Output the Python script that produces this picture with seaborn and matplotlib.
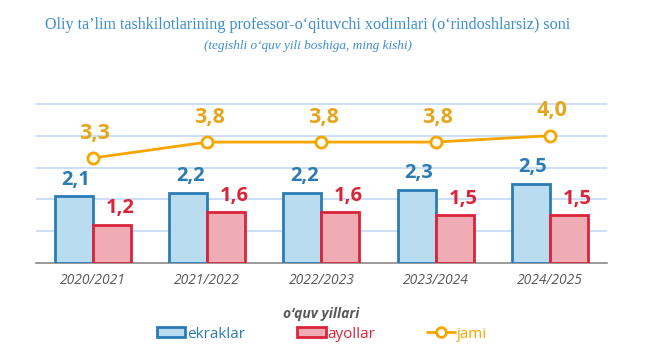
import matplotlib

matplotlib.use("Agg")
import matplotlib.pyplot as plt
import numpy as np
import pandas as pd
import seaborn as sns
from matplotlib.lines import Line2D
from matplotlib.patches import Patch

years = ["2020/2021", "2021/2022", "2022/2023", "2023/2024", "2024/2025"]
ekraklar = [2.1, 2.2, 2.2, 2.3, 2.5]
ayollar = [1.2, 1.6, 1.6, 1.5, 1.5]
jami = [3.3, 3.8, 3.8, 3.8, 4.0]
series_names = ["ekraklar", "ayollar", "jami"]

BLUE_FACE = "#b9dcf1"
BLUE_EDGE = "#2b7bb4"
RED_FACE = "#f0acb4"
RED_EDGE = "#da2439"
ORANGE = "#f7a600"
ORANGE_TXT = "#e6a61c"
TITLE_BLUE = "#3b8ed0"
GREY = "#595959"


def fmt(v):
    return f"{v:.1f}".replace(".", ",")


sns.set_theme(style="white")
plt.rcParams["font.family"] = ["Open Sans", "DejaVu Sans"]

df = pd.DataFrame(
    {
        "year": years * 2,
        "group": [series_names[0]] * len(years) + [series_names[1]] * len(years),
        "value": ekraklar + ayollar,
    }
)

fig = plt.figure(figsize=(6.54, 3.62), dpi=100)
ax = fig.add_axes([0.0546, 0.2727, 0.8736, 0.4582])

sns.barplot(
    data=df,
    x="year",
    y="value",
    hue="group",
    order=years,
    hue_order=series_names[:2],
    palette={series_names[0]: BLUE_FACE, series_names[1]: RED_FACE},
    width=0.665,
    saturation=1,
    legend=False,
    ax=ax,
    zorder=3,
)
for container, edge in zip(ax.containers, [BLUE_EDGE, RED_EDGE]):
    for bar in container:
        bar.set_edgecolor(edge)
        bar.set_linewidth(2)

# total line on the same axis
xs = np.arange(len(years))
sns.lineplot(
    x=xs,
    y=jami,
    color=ORANGE,
    linewidth=2,
    marker="o",
    markersize=8,
    markerfacecolor="white",
    markeredgecolor=ORANGE,
    markeredgewidth=2,
    ax=ax,
    zorder=4,
)

# value labels
lab_font = dict(family=["Open Sans", "DejaVu Sans"], fontweight="bold")
for container, vals, col, dx in zip(
    ax.containers, [ekraklar, ayollar], [BLUE_EDGE, RED_EDGE], [1.5, 6]
):
    for bar, v in zip(container, vals):
        ax.annotate(
            fmt(v),
            (bar.get_x() + bar.get_width() / 2, bar.get_height()),
            xytext=(dx, 12),
            textcoords="offset points",
            ha="center",
            va="center",
            color=col,
            fontsize=14.5,
            **lab_font,
        )
for x, v in zip(xs, jami):
    ax.annotate(
        fmt(v),
        (x, v),
        xytext=(1.5, 18),
        textcoords="offset points",
        ha="center",
        va="center",
        color=ORANGE_TXT,
        fontsize=15.5,
        **lab_font,
    )

ax.set_ylim(0, 5.2)
ax.set_xlim(-0.5, len(years) - 0.5)
ax.set_yticks([1, 2, 3, 4, 5])
ax.set_yticklabels([])
ax.grid(axis="y", color="#c8dcf6", linewidth=1.3, zorder=0)
ax.set_axisbelow(True)
for s in ["top", "left", "right"]:
    ax.spines[s].set_visible(False)
ax.spines["bottom"].set_color("#8a8a8a")
ax.spines["bottom"].set_linewidth(1.2)
ax.tick_params(axis="y", length=0)

# category separators as minor ticks
ax.set_xticks(np.arange(len(years) + 1) - 0.5, minor=True)
ax.tick_params(axis="x", which="major", length=0, pad=7)
ax.tick_params(axis="x", which="minor", length=4, width=1.2, color="#8a8a8a")
ax.set_xticks(xs)
ax.set_xticklabels(years, fontsize=10, style="italic", color=GREY)
ax.set_xlabel(
    "o‘quv yillari",
    fontsize=10,
    style="italic",
    fontweight="bold",
    color=GREY,
    labelpad=14,
)
ax.set_ylabel("")

fig.text(
    0.47,
    1 - 25 / 362,
    "Oliy ta’lim tashkilotlarining professor-o‘qituvchi xodimlari (o‘rindoshlarsiz) soni",
    family="Liberation Serif",
    fontsize=11.6,
    color=TITLE_BLUE,
    ha="center",
    va="center",
)
fig.text(
    0.471,
    1 - 46.5 / 362,
    "(tegishli o‘quv yili boshiga, ming kishi)",
    family="Liberation Serif",
    fontsize=9.5,
    style="italic",
    color=TITLE_BLUE,
    ha="center",
    va="center",
)

handles = [
    Patch(facecolor=BLUE_FACE, edgecolor=BLUE_EDGE, linewidth=2),
    Patch(facecolor=RED_FACE, edgecolor=RED_EDGE, linewidth=2),
    Line2D(
        [0],
        [0],
        color=ORANGE,
        linewidth=2,
        marker="o",
        markersize=7,
        markerfacecolor="white",
        markeredgecolor=ORANGE,
        markeredgewidth=2,
    ),
]
leg = fig.legend(
    handles,
    series_names,
    loc="center",
    bbox_to_anchor=(322 / 654, 1 - 334 / 362),
    ncol=3,
    frameon=False,
    fontsize=11,
    handlelength=1.87,
    handleheight=0.65,
    handletextpad=0.1,
    columnspacing=3.4,
)
for txt, col in zip(leg.get_texts(), [BLUE_EDGE, RED_EDGE, ORANGE]):
    txt.set_color(col)

fig.savefig("out.png", dpi=100)
